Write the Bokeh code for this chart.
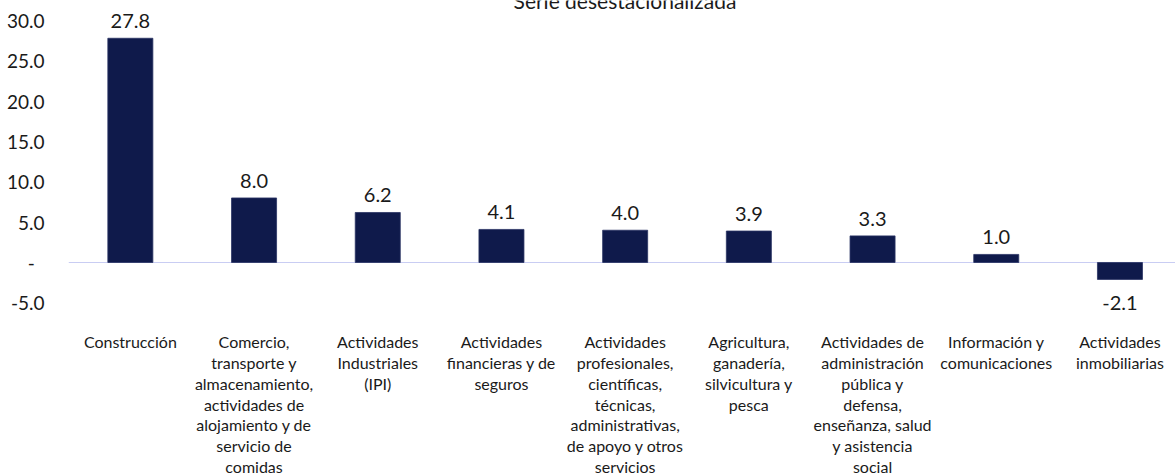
import numpy as np
from bokeh.plotting import figure
from bokeh.models import Range1d, FixedTicker, PrintfTickFormatter, Span, Label, ColumnDataSource
from bokeh.core.properties import value
from bokeh.embed import file_html
from bokeh.resources import INLINE

# ---- data ----
categories = [
    "Construcción",
    "Comercio,\ntransporte y\nalmacenamiento,\nactividades de\nalojamiento y de\nservicio de\ncomidas",
    "Actividades\nIndustriales\n(IPI)",
    "Actividades\nfinancieras y de\nseguros",
    "Actividades\nprofesionales,\ncientíficas,\ntécnicas,\nadministrativas,\nde apoyo y otros\nservicios",
    "Agricultura,\nganadería,\nsilvicultura y\npesca",
    "Actividades de\nadministración\npública y\ndefensa,\nenseñanza, salud\ny asistencia\nsocial",
    "Información y\ncomunicaciones",
    "Actividades\ninmobiliarias",
]
values = [27.8, 8.0, 6.2, 4.1, 4.0, 3.9, 3.3, 1.0, -2.1]
y_ticks = [-5, 0, 5, 10, 15, 20, 25, 30]
title_text = "Serie desestacionalizada"

FONT = "Lato"
BAR = "#0f1a4b"
TXT = "#1a1a1a"

idx = list(range(len(categories)))
labels = ["%.1f" % v for v in values]
pos = [i for i, v in enumerate(values) if v >= 0]
neg = [i for i, v in enumerate(values) if v < 0]

src = ColumnDataSource(dict(x=idx, top=values, cat=categories, lab=labels,
                            base=[min(y_ticks)] * len(idx)))
src_pos = ColumnDataSource(dict(x=[idx[i] for i in pos], y=[values[i] for i in pos], t=[labels[i] for i in pos]))
src_neg = ColumnDataSource(dict(x=[idx[i] for i in neg], y=[values[i] for i in neg], t=[labels[i] for i in neg]))

p = figure(width=1175, height=476, output_backend="svg", toolbar_location=None,
           x_range=Range1d(-0.5, len(categories) - 0.551), y_range=Range1d(-26.53, 32.48),
           x_axis_location=None, min_border_left=68, min_border_right=0,
           min_border_top=0, min_border_bottom=0)
p.outline_line_color = None
p.grid.visible = False
p.background_fill_color = "white"
p.border_fill_color = "white"

yax = p.yaxis[0]
yax.ticker = FixedTicker(ticks=y_ticks)
yax.formatter = PrintfTickFormatter(format="%.1f")
yax.major_label_overrides = {0: "-\u00a0\u00a0"}
yax.axis_line_color = None
yax.major_tick_line_color = None
yax.minor_tick_line_color = None
yax.major_tick_out = 0
yax.major_tick_in = 0
yax.major_label_standoff = 24
yax.major_label_text_font = FONT
yax.major_label_text_font_size = "19px"
yax.major_label_text_color = TXT

zero = Span(location=0, dimension="width", line_color="#c9cdf3", line_width=1, level="underlay")
p.add_layout(zero)

p.vbar(x="x", top="top", bottom=0, width=0.364, source=src,
       fill_color=BAR, line_color="#2a3463", line_width=0.8)

p.text(x="x", y="y", text="t", source=src_pos, text_align="center",
       text_baseline="alphabetic", y_offset=-17, text_font=value(FONT),
       text_font_size="20px", text_color=TXT)
p.text(x="x", y="y", text="t", source=src_neg, text_align="center",
       text_baseline="alphabetic", y_offset=23.5, text_font=value(FONT),
       text_font_size="20px", text_color=TXT)

p.text(x="x", y="base", text="cat", source=src, text_align="center",
       text_baseline="top", y_offset=29, text_font=value(FONT),
       text_font_size="16px", text_color=TXT, text_line_height=1.1)

p.add_layout(Label(x=624.5 - 68, y=476, x_units="screen", y_units="screen",
                   text=title_text, text_align="center", text_baseline="alphabetic",
                   text_font=FONT, text_font_size="21px", text_color=TXT))

open("out.html", "w").write(file_html(p, INLINE))
